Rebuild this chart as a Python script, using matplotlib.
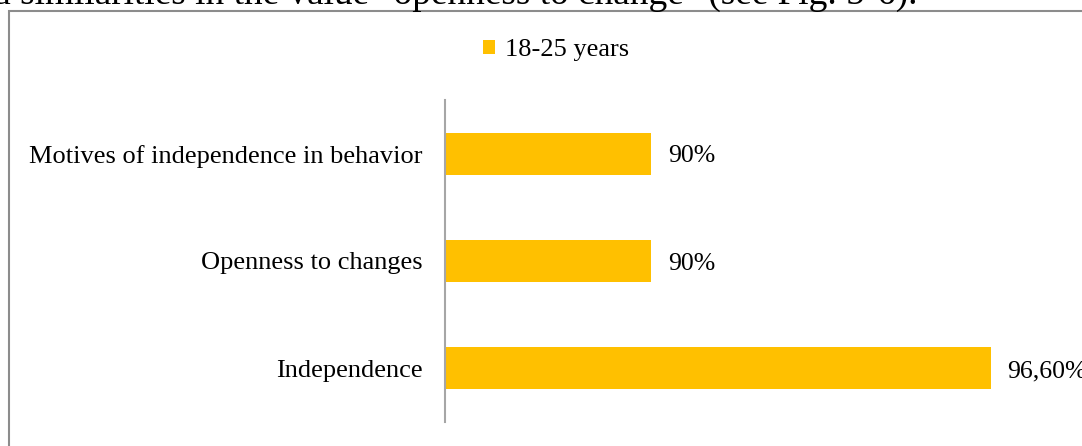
import matplotlib.pyplot as plt
from matplotlib.patches import Rectangle

# Data
categorias = ['Independence', 'Openness to changes', 'Motives of independence in behavior']
valores = [96.6, 90, 90]
rotulos = ['96,60%', '90%', '90%']
serie = '18-25 years'

plt.rcParams['font.family'] = ['Liberation Serif', 'DejaVu Serif']

fig = plt.figure(figsize=(10.82, 4.46), dpi=100)
W, H = 1082, 446

# text from the page above the chart, cut at the top
fig.text(-8 / W, 1 - 4 / H, 'd similarities in the value "openness to change" (see Fig. 5-6).',
         fontsize=26.8, ha='left', va='baseline', color='black')

# chart border
fig.patches.append(Rectangle((8.5 / W, -0.1), 1.2, 1 - 11 / H + 0.1, transform=fig.transFigure,
                             fill=False, edgecolor='#8c8c8c', linewidth=1.5))

ax = fig.add_axes([445 / W, 1 - 422 / H, 618 / W, 322 / H])
barras = ax.barh(range(len(categorias)), valores, height=0.39, color='#FFC000', label=serie)
ax.set_xlim(86, 98)
ax.set_ylim(-0.5, len(categorias) - 0.5)
ax.set_yticks(range(len(categorias)))
ax.set_yticklabels(categorias, fontsize=19)
ax.tick_params(axis='y', length=0, pad=16)
ax.set_xticks([])
for s in ['top', 'right', 'bottom']:
    ax.spines[s].set_visible(False)
ax.spines['left'].set_color('#a6a6a6')
ax.spines['left'].set_linewidth(1.5)

for b, r in zip(barras, rotulos):
    ax.annotate(r, (b.get_width(), b.get_y() + b.get_height() / 2), xytext=(12, -2),
                textcoords='offset points', va='center', ha='left', fontsize=18.5,
                annotation_clip=False)

fig.legend(handles=[barras], labels=[serie], loc='center', bbox_to_anchor=(556 / W, 1 - 50 / H),
           frameon=False, fontsize=19, handlelength=0.45, handleheight=0.45, handletextpad=0.4)

plt.savefig('out.png', dpi=100)
